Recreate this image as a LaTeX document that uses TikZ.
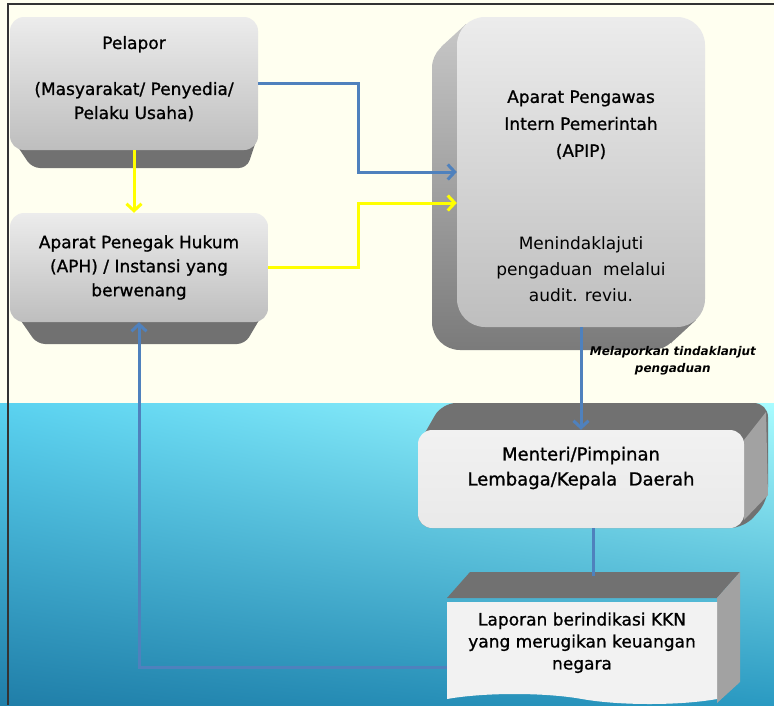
\documentclass[tikz,border=0pt]{standalone}
\usepackage{fontspec}
\setmainfont{DejaVu Sans}
\newfontfamily\heavyfont[FakeBold=1]{DejaVu Sans}
\usetikzlibrary{arrows.meta, calc, shapes.symbols, shadings}

\definecolor{cream}{RGB}{255,255,240}
\definecolor{lineblue}{RGB}{79,129,189}
\definecolor{lineyellow}{RGB}{255,255,0}
\definecolor{seaA}{RGB}{90,210,240}
\definecolor{seaB}{RGB}{168,252,255}
\definecolor{seaC}{RGB}{32,126,168}
\definecolor{seaD}{RGB}{42,154,194}
\definecolor{facetop}{RGB}{236,236,236}
\definecolor{facebot}{RGB}{190,190,190}
\definecolor{sidedark}{RGB}{113,113,113}
\definecolor{sidelight}{RGB}{162,162,162}

\tikzstyle{box} = [rectangle, rounded corners=14pt, text centered, align=center, top color=facetop, bottom color=facebot, font=\heavyfont\fontsize{17}{24}\selectfont]
\tikzstyle{flatbox} = [rectangle, rounded corners=14pt, text centered, align=center, top color=gray!11, bottom color=gray!17]
\tikzstyle{boxtext} = [text centered, align=center, font=\heavyfont\fontsize{17}{26}\selectfont]
\tikzstyle{note} = [text=black, text centered, align=center, font=\bfseries\itshape\fontsize{12}{17}\selectfont]
\tikzstyle{bluearrow} = [line width=3pt, lineblue, -{Straight Barb[length=7pt, width=15pt]}]
\tikzstyle{yellowarrow} = [line width=3pt, lineyellow, -{Straight Barb[length=7pt, width=15pt]}]
\tikzstyle{blueline} = [line width=3pt, lineblue]

\begin{document}
\begin{tikzpicture}[x=1pt, y=-1pt]
\useasboundingbox (0,0) rectangle (774,705);

% Background
\fill[cream] (0,0) rectangle (774,403);
\shade[upper left=seaA, upper right=seaB, lower left=seaC, lower right=seaD] (0,403) rectangle (774,705);
\draw[black!80, line width=1.5pt] (774,4) -- (8,4) -- (8,705);

% Extrusions
\fill[sidedark, rounded corners=8pt] (10,135) -- (258,135) -- (247,168) -- (32,168) -- cycle;
\fill[sidedark, rounded corners=8pt] (10,305) -- (268,305) -- (245,344) -- (37,344) -- cycle;
\shade[top color=black!22, bottom color=black!52] [rounded corners=28pt] (432,40) -- (680,40) -- (680,350) -- (432,350) -- cycle
  [sharp corners] (466,24) -- (696,320) -- (671,343) -- (441,47) -- cycle;
\fill[sidedark, rounded corners=14pt] (418,445) -- (442,403) -- (768,403) -- (768,501) -- (744,528) -- (418,528) -- cycle;
\fill[sidelight] (744,440) -- (766,412) -- (768,495) -- (744,520) -- cycle;
\fill[sidedark] (447,598) -- (470,572) -- (740,572) -- (717,598) -- cycle;
\fill[sidelight] (717,598) -- (740,572) -- (740,682) -- (717,703) -- cycle;

% Nodes
\node (pelapor) [box, text depth=12pt, minimum width=248pt, minimum height=133pt] at (134,83.5) {Pelapor\\[22pt](Masyarakat/ Penyedia/\\Pelaku Usaha)};
\node (aph) [box, minimum width=258pt, minimum height=109pt] at (139,267.5) {Aparat Penegak Hukum\\(APH) / Instansi yang\\berwenang};
\node (apip) [box, rounded corners=28pt, minimum width=248pt, minimum height=310pt] at (581,172) {};
\node (apiptitle) [boxtext, font=\heavyfont\fontsize{17}{27}\selectfont] at ($(apip.north)+(0,108)$) {Aparat Pengawas\\Intern Pemerintah\\(APIP)};
\node (apiptask) [boxtext, font=\fontsize{17}{26}\selectfont] at ($(apip.north)+(0,252)$) {Menindaklajuti\\pengaduan\ \ melalui\\audit. reviu.};
\node (menteri) [flatbox, minimum width=326pt, minimum height=98pt] at (581,479) {};
\node (menteritext) [boxtext, font=\heavyfont\fontsize{18}{25}\selectfont] at ($(menteri.center)+(0,-11)$) {Menteri/Pimpinan\\Lembaga/Kepala\ \ Daerah};
\node (laporan) [tape, tape bend top=none, tape bend bottom=out and in, tape bend height=10pt, top color=gray!10, bottom color=gray!10, draw=none, text centered, align=center, text depth=14pt, font=\heavyfont\fontsize{17}{22}\selectfont, minimum width=270pt, minimum height=102pt] at (582,648) {Laporan berindikasi KKN\\yang merugikan keuangan\\negara};

% Arrows
\draw [bluearrow] (pelapor.east) -- ++(100,0) |- (apip.west);
\draw [yellowarrow] (aph.east) -- ++(90,0) |- ($(apip.west)+(0,31)$);
\draw [yellowarrow] (pelapor.south) -- (pelapor.south |- aph.north);
\draw [bluearrow] (apip.south) -- (apip.south |- menteri.north) node[note, pos=0.33, anchor=west, xshift=4pt] (reportnote) {Melaporkan tindaklanjut\\pengaduan};
\draw [blueline] ($(menteri.south)+(12,0)$) -- ($(laporan.north)+(11,-26)$);
\draw [bluearrow] ($(laporan.west)+(0,19)$) -| (aph.south);

\end{tikzpicture}
\end{document}
